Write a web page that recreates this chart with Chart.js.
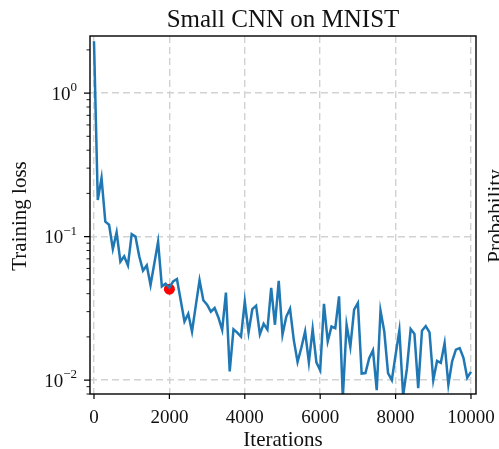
<!DOCTYPE html>
<html>
<head>
<meta charset="utf-8">
<script src="https://cdn.jsdelivr.net/npm/chart.js@4.4.0/dist/chart.umd.min.js"></script>
<style>
  html, body { margin: 0; padding: 0; background: #fff; }
</style>
</head>
<body>
<canvas id="chart" width="499" height="449"></canvas>
<script>
// Training loss logged every 100 iterations
const iterations = [
  0, 100, 200, 300, 400, 500, 600, 700, 800, 900,
  1000, 1100, 1200, 1300, 1400, 1500, 1600, 1700, 1800, 1900,
  2000, 2100, 2200, 2300, 2400, 2500, 2600, 2700, 2800, 2900,
  3000, 3100, 3200, 3300, 3400, 3500, 3600, 3700, 3800, 3900,
  4000, 4100, 4200, 4300, 4400, 4500, 4600, 4700, 4800, 4900,
  5000, 5100, 5200, 5300, 5400, 5500, 5600, 5700, 5800, 5900,
  6000, 6100, 6200, 6300, 6400, 6500, 6600, 6700, 6800, 6900,
  7000, 7100, 7200, 7300, 7400, 7500, 7600, 7700, 7800, 7900,
  8000, 8100, 8200, 8300, 8400, 8500, 8600, 8700, 8800, 8900,
  9000, 9100, 9200, 9300, 9400, 9500, 9600, 9700, 9800, 9900,
  10000
];
const trainingLoss = [
  2.3, 0.18, 0.256, 0.127, 0.121, 0.082, 0.107, 0.067, 0.073, 0.063,
  0.104, 0.100, 0.073, 0.058, 0.063, 0.046, 0.065, 0.092, 0.045, 0.047,
  0.044, 0.0487, 0.0506, 0.036, 0.0256, 0.029, 0.0218, 0.033, 0.0496, 0.036,
  0.0335, 0.030, 0.0318, 0.0273, 0.0224, 0.0407, 0.0115, 0.0226, 0.0214, 0.0201,
  0.0353, 0.0215, 0.0312, 0.033, 0.0209, 0.0247, 0.0225, 0.044, 0.0243, 0.0492,
  0.0207, 0.0276, 0.0314, 0.019, 0.0134, 0.0168, 0.0218, 0.0133, 0.0227, 0.0133,
  0.0117, 0.034, 0.0186, 0.0236, 0.023, 0.0383, 0.0075, 0.0243, 0.0171, 0.031,
  0.0344, 0.0111, 0.0112, 0.0142, 0.0161, 0.0085, 0.0304, 0.0218, 0.0112, 0.0100,
  0.015, 0.0222, 0.0078, 0.012, 0.0227, 0.021, 0.0088, 0.0221, 0.0238, 0.0215,
  0.0100, 0.0136, 0.0132, 0.0181, 0.0093, 0.0135, 0.0163, 0.0167, 0.0143, 0.0104,
  0.0114
];
// highlighted point
const markerX = [2000];
const markerY = [0.043];

const xTicks = [0, 2000, 4000, 6000, 8000, 10000];
const yTicks = [0.01, 0.1, 1];
const yMinorTicks = [0.008, 0.009, 0.02, 0.03, 0.04, 0.05, 0.06, 0.07, 0.08, 0.09,
  0.2, 0.3, 0.4, 0.5, 0.6, 0.7, 0.8, 0.9, 2];

const serif = '"Liberation Serif", "DejaVu Serif", serif';

// frame, tick marks and all text drawn on top of the plot
const decorations = {
  id: 'decorations',
  afterDraw(chart) {
    const { ctx, chartArea: a } = chart;
    const x = chart.scales.x;
    const y = chart.scales.y;
    ctx.save();
    ctx.strokeStyle = '#000';
    ctx.lineWidth = 1.4;
    ctx.strokeRect(a.left, a.top, a.right - a.left, a.bottom - a.top);

    ctx.lineWidth = 1.2;
    ctx.beginPath();
    x.ticks.forEach(t => {
      const px = x.getPixelForValue(t.value);
      ctx.moveTo(px, a.bottom);
      ctx.lineTo(px, a.bottom + 5);
    });
    y.ticks.forEach(t => {
      const py = y.getPixelForValue(t.value);
      ctx.moveTo(a.left - 6, py);
      ctx.lineTo(a.left, py);
    });
    ctx.stroke();

    ctx.lineWidth = 0.9;
    ctx.beginPath();
    yMinorTicks.forEach(v => {
      const py = y.getPixelForValue(v);
      ctx.moveTo(a.left - 3.5, py);
      ctx.lineTo(a.left, py);
    });
    ctx.stroke();

    ctx.fillStyle = '#111';
    ctx.textBaseline = 'alphabetic';

    // x tick labels
    ctx.font = '19px ' + serif;
    ctx.textAlign = 'center';
    x.ticks.forEach(t => {
      ctx.fillText(String(t.value), x.getPixelForValue(t.value), 423);
    });

    // y tick labels as 10^n
    ctx.textAlign = 'left';
    y.ticks.forEach(t => {
      const py = y.getPixelForValue(t.value);
      const exp = String(Math.round(Math.log10(t.value))).replace('-', '\u2212');
      ctx.font = '19px ' + serif;
      const wb = ctx.measureText('10').width;
      ctx.font = '13px ' + serif;
      const we = ctx.measureText(exp).width;
      const right = 77;
      ctx.font = '19px ' + serif;
      ctx.fillText('10', right - we - wb, py + 6.5);
      ctx.font = '13px ' + serif;
      ctx.fillText(exp, right - we, py - 2);
    });

    // title
    const cx = (a.left + a.right) / 2;
    ctx.textAlign = 'center';
    ctx.font = '25px ' + serif;
    ctx.fillText('Small CNN on MNIST', cx, 27);

    // x axis title
    ctx.font = '21px ' + serif;
    ctx.fillText('Iterations', cx, 446);

    // y axis title
    ctx.save();
    ctx.translate(26, 216);
    ctx.rotate(-Math.PI / 2);
    ctx.font = '21px ' + serif;
    ctx.fillText('Training loss', 0, 0);
    ctx.restore();

    // label of the neighbouring panel, cut by the edge
    ctx.save();
    ctx.translate(502, 216);
    ctx.rotate(-Math.PI / 2);
    ctx.font = '21px ' + serif;
    ctx.fillText('Probability', 0, 0);
    ctx.restore();

    ctx.restore();
  }
};

const ctx = document.getElementById('chart').getContext('2d');

new Chart(ctx, {
  type: 'line',
  data: {
    datasets: [
      {
        data: iterations.map((it, i) => ({ x: it, y: trainingLoss[i] })),
        borderColor: '#1f77b4',
        borderWidth: 2.5,
        pointRadius: 0,
        tension: 0,
        fill: false
      },
      {
        type: 'scatter',
        data: markerX.map((it, i) => ({ x: it, y: markerY[i] })),
        backgroundColor: '#ff0000',
        borderWidth: 0,
        pointRadius: 5.5
      }
    ]
  },
  options: {
    responsive: false,
    animation: false,
    layout: { padding: { top: 36, right: 23, left: 0, bottom: 0 } },
    plugins: {
      legend: { display: false },
      tooltip: { enabled: false },
      title: { display: false }
    },
    scales: {
      x: {
        type: 'linear',
        min: -106,
        max: 10133,
        afterBuildTicks: s => { s.ticks = xTicks.map(v => ({ value: v })); },
        afterFit: s => { s.height = 55; },
        ticks: { display: false },
        grid: { color: '#d2d2d2', lineWidth: 1.4, drawTicks: false },
        border: { display: false, dash: [7, 4] }
      },
      y: {
        type: 'logarithmic',
        min: 0.008,
        max: 2.5,
        afterBuildTicks: s => { s.ticks = yTicks.map(v => ({ value: v })); },
        afterFit: s => { s.width = 90; },
        ticks: { display: false },
        grid: { color: '#d2d2d2', lineWidth: 1.4, drawTicks: false },
        border: { display: false, dash: [7, 4] }
      }
    }
  },
  plugins: [decorations]
});
</script>
</body>
</html>
